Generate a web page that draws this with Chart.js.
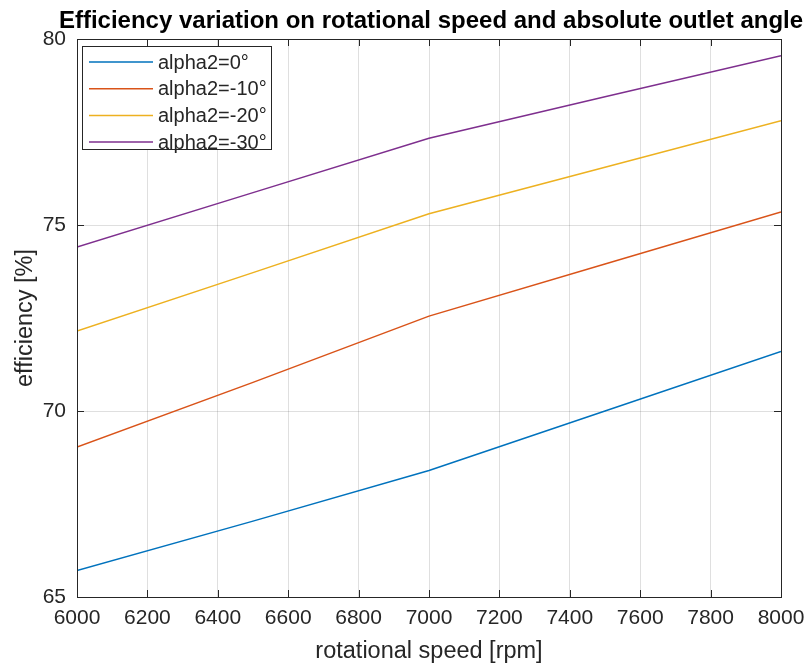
<!DOCTYPE html>
<html>
<head>
<meta charset="utf-8">
<script src="https://cdn.jsdelivr.net/npm/chart.js@4"></script>
<style>
  html, body { margin: 0; padding: 0; background: #fff; }
  #wrap { width: 810px; height: 666px; }
</style>
</head>
<body>
<div id="wrap"><canvas id="grafico" width="810" height="666"></canvas></div>
<script>
// dados
const speeds = [6000, 6500, 7000, 7500, 8000];
const alpha0 = [65.71, 67.04, 68.40, 70.00, 71.60];
const alpha10 = [69.03, 70.77, 72.55, 73.95, 75.35];
const alpha20 = [72.15, 73.72, 75.30, 76.55, 77.80];
const alpha30 = [74.41, 75.87, 77.33, 78.45, 79.55];
const seriesLabels = ['alpha2=0°', 'alpha2=-10°', 'alpha2=-20°', 'alpha2=-30°'];
const seriesColors = ['#0072BD', '#D95319', '#EDB120', '#7E2F8E'];
const xTicks = [6000, 6200, 6400, 6600, 6800, 7000, 7200, 7400, 7600, 7800, 8000];
const yTicks = [65, 70, 75, 80];
const chartTitle = 'Efficiency variation on rotational speed and absolute outlet angle';

const FONT = "'Liberation Sans', Arial, sans-serif";
const AXIS = '#262626';

function pts(ys) {
  return speeds.map((x, i) => ({ x: x, y: ys[i] }));
}

// caixa estilo matlab com ticks para dentro + título centrado nos eixos
const boxPlugin = {
  id: 'boxPlugin',
  afterDraw(chart) {
    const c = chart.ctx;
    const a = chart.chartArea;
    const xs = chart.scales.x, ys = chart.scales.y;
    c.save();
    c.strokeStyle = AXIS;
    c.lineWidth = 1;
    c.strokeRect(Math.round(a.left) + 0.5, Math.round(a.top) + 0.5,
                 Math.round(a.right - a.left), Math.round(a.bottom - a.top));
    c.beginPath();
    xTicks.forEach(v => {
      const px = Math.round(xs.getPixelForValue(v)) + 0.5;
      c.moveTo(px, a.bottom); c.lineTo(px, a.bottom - 7);
      c.moveTo(px, a.top); c.lineTo(px, a.top + 7);
    });
    yTicks.forEach(v => {
      const py = Math.round(ys.getPixelForValue(v)) + 0.5;
      c.moveTo(a.left, py); c.lineTo(a.left + 7, py);
      c.moveTo(a.right, py); c.lineTo(a.right - 7, py);
    });
    c.stroke();

    c.fillStyle = '#000';
    c.font = 'bold 24px ' + FONT;
    c.textAlign = 'center';
    c.textBaseline = 'alphabetic';
    c.fillText(chartTitle, (a.left + a.right) / 2 + 2, 28);
    c.restore();
  }
};

// legenda dentro do gráfico
const legendPlugin = {
  id: 'legendPlugin',
  afterDraw(chart) {
    const c = chart.ctx;
    const a = chart.chartArea;
    const bx = a.left + 5, by = a.top + 7, bw = 189, bh = 103;
    c.save();
    c.fillStyle = '#fff';
    c.fillRect(bx, by, bw, bh);
    c.strokeStyle = AXIS;
    c.lineWidth = 1;
    c.strokeRect(Math.round(bx) + 0.5, Math.round(by) + 0.5, bw, bh);
    c.font = '20px ' + FONT;
    c.textBaseline = 'middle';
    c.fillStyle = AXIS;
    chart.data.datasets.forEach((ds, i) => {
      const y = by + 16 + i * 26.7;
      c.strokeStyle = ds.borderColor;
      c.lineWidth = 1.5;
      c.beginPath();
      c.moveTo(bx + 7, y); c.lineTo(bx + 71, y);
      c.stroke();
      c.fillText(ds.label, bx + 76, y + 1);
    });
    c.restore();
  }
};

const ctx = document.getElementById('grafico').getContext('2d');
const grafico = new Chart(ctx, {
  type: 'line',
  data: {
    datasets: [alpha0, alpha10, alpha20, alpha30].map((d, i) => ({
      label: seriesLabels[i],
      data: pts(d),
      borderColor: seriesColors[i],
      backgroundColor: seriesColors[i],
      borderWidth: 1.5,
      pointRadius: 0,
      tension: 0,
      fill: false
    }))
  },
  options: {
    responsive: false,
    animation: false,
    layout: { padding: { left: 0, right: 29, top: 39, bottom: 0 } },
    plugins: {
      legend: { display: false },
      tooltip: { enabled: false },
      title: { display: false }
    },
    scales: {
      x: {
        type: 'linear',
        min: 6000,
        max: 8000,
        afterFit(scale) {
          scale.height = 69;
          scale.paddingLeft = 0;
          scale.paddingRight = 0;
        },
        afterBuildTicks(scale) { scale.ticks = xTicks.map(v => ({ value: v })); },
        ticks: {
          color: AXIS,
          font: { family: FONT, size: 21 },
          padding: 9,
          maxRotation: 0,
          callback: v => String(v)
        },
        grid: { color: 'rgba(38,38,38,0.15)', drawTicks: false },
        border: { display: false },
        title: {
          display: true,
          text: 'rotational speed [rpm]',
          color: AXIS,
          font: { family: FONT, size: 23.5 },
          padding: { top: 3, bottom: 0 }
        }
      },
      y: {
        min: 65,
        max: 80,
        afterFit(scale) {
          scale.width = 77;
          scale.paddingTop = 0;
          scale.paddingBottom = 0;
        },
        afterBuildTicks(scale) { scale.ticks = yTicks.map(v => ({ value: v })); },
        ticks: {
          color: AXIS,
          font: { family: FONT, size: 21 },
          padding: 11
        },
        grid: { color: 'rgba(38,38,38,0.15)', drawTicks: false },
        border: { display: false },
        title: {
          display: true,
          text: 'efficiency [%]',
          color: AXIS,
          font: { family: FONT, size: 23.5 },
          padding: { top: 11, bottom: 0 }
        }
      }
    }
  },
  plugins: [boxPlugin, legendPlugin]
});
</script>
</body>
</html>
